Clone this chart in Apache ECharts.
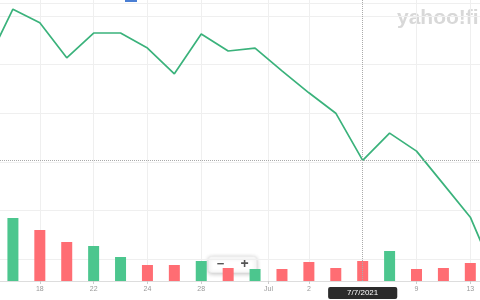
<!DOCTYPE html>
<html><head><meta charset="utf-8">
<script src="https://cdn.jsdelivr.net/npm/echarts@6/dist/echarts.min.js"></script>
<style>html,body{margin:0;padding:0;background:#fff}#c{width:480px;height:300px}</style>
</head><body><div id="c"></div>
<script>
// trading days (index = position on the x axis)
const dates = ['6/16/2021','6/17/2021','6/18/2021','6/21/2021','6/22/2021','6/23/2021','6/24/2021','6/25/2021','6/28/2021','6/29/2021','6/30/2021','7/1/2021','7/2/2021','7/6/2021','7/7/2021','7/8/2021','7/9/2021','7/12/2021','7/13/2021','7/14/2021'];
const closePrice = [45.00,46.14,45.86,45.14,45.65,45.65,45.34,44.81,45.63,45.28,45.34,44.87,44.42,44.00,43.03,43.59,43.22,42.54,41.86,40.57];
const volume = [null,6.3,5.1,3.9,3.5,2.4,1.6,1.6,2.0,1.3,1.2,1.2,1.9,1.3,2.0,3.0,1.2,1.3,1.8,null];
const volumeDir = ['down','up','down','down','up','up','down','down','up','down','up','down','down','down','down','up','down','down','down','down'];
const tickPos = [2,4,6,8,10.5,12,16,18];
const tickLabels = ['18','22','24','28','Jul','2','9','13'];
const crossIdx = 14;
const crossLabel = '7/7/2021';
const priceTicks = {min:41, max:46, interval:1};
const viewRange = [0.52, 18.36];

const UP = '#4cc68e', DOWN = '#ff6d73', LINE = '#3ab27b';
const chart = echarts.init(document.getElementById('c'), null, {renderer:'canvas'});
chart.setOption({
  animation:false,
  backgroundColor:'#ffffff',
  grid:[
    {left:0,right:0,top:16,bottom:41},
    {left:0,right:0,top:0,bottom:19}
  ],
  xAxis:[
    {gridIndex:0,type:'value',min:viewRange[0],max:viewRange[1],show:false},
    {gridIndex:1,type:'value',min:viewRange[0],max:viewRange[1],
     axisLine:{show:true,lineStyle:{color:'#dddddd',width:1}},
     axisTick:{show:true,customValues:tickPos,length:3,lineStyle:{color:'#cccccc'}},
     axisLabel:{show:true,customValues:tickPos,formatter:v=>tickLabels[tickPos.indexOf(v)],fontSize:7,color:'#999999',margin:5,fontFamily:'Liberation Sans'},
     splitLine:{show:true,lineStyle:{color:'#efefef',width:1}},
     axisPointer:{show:true,value:crossIdx,status:'show',snap:false,type:'line',
       lineStyle:{color:'#aaaaaa',type:'dotted',width:1},
       label:{show:true,formatter:()=>crossLabel,backgroundColor:'#2b2b2b',color:'#ffffff',fontSize:8,fontFamily:'Liberation Sans',padding:[2,19,2,19],borderRadius:2,margin:6}}
    }
  ],
  yAxis:[
    {gridIndex:0,type:'value',min:priceTicks.min,max:priceTicks.max,interval:priceTicks.interval,
     axisLine:{show:false},axisTick:{show:false},axisLabel:{show:false},
     splitLine:{show:true,lineStyle:{color:'#efefef',width:1}},
     axisPointer:{show:true,value:closePrice[crossIdx],status:'show',type:'line',
       lineStyle:{color:'#aaaaaa',type:'dotted',width:1},label:{show:false}}
    },
    {gridIndex:1,type:'value',min:0,max:28.1,show:false}
  ],
  series:[
    {type:'bar',xAxisIndex:1,yAxisIndex:1,barWidth:11,z:1,
     data:volume.map((v,i)=>({value:[i,v],itemStyle:{color:volumeDir[i]==='up'?UP:DOWN}}))},
    {type:'line',xAxisIndex:0,yAxisIndex:0,clip:false,showSymbol:false,z:3,
     lineStyle:{color:LINE,width:1.7},
     data:closePrice.map((v,i)=>[i,v])}
  ],
  graphic:[
    {type:'line',shape:{x1:0,y1:3.5,x2:480,y2:3.5},style:{stroke:'#efefef',lineWidth:1},z:-1},
    {type:'rect',shape:{x:125,y:0,width:12,height:2},style:{fill:'#4a7fd4'}},
    {type:'text',left:397,top:8,style:{text:'yahoo!finance',fill:'#d8d8d8',font:'bold 21px "Liberation Sans"'},z:0},
    {type:'group',left:208,top:256,z:100,children:[
      {type:'rect',shape:{x:0,y:0,width:48,height:16,r:3},style:{fill:'#ffffff',stroke:'#ececec',lineWidth:1,shadowBlur:4,shadowColor:'rgba(0,0,0,0.22)',shadowOffsetY:1}},
      {type:'text',x:12,y:8,style:{text:'\u2212',fill:'#555555',font:'bold 13px "Liberation Sans"',align:'center',verticalAlign:'middle'}},
      {type:'text',x:36,y:8,style:{text:'+',fill:'#555555',font:'bold 14px "Liberation Sans"',align:'center',verticalAlign:'middle'}}
    ]}
  ]
});
</script></body></html>
